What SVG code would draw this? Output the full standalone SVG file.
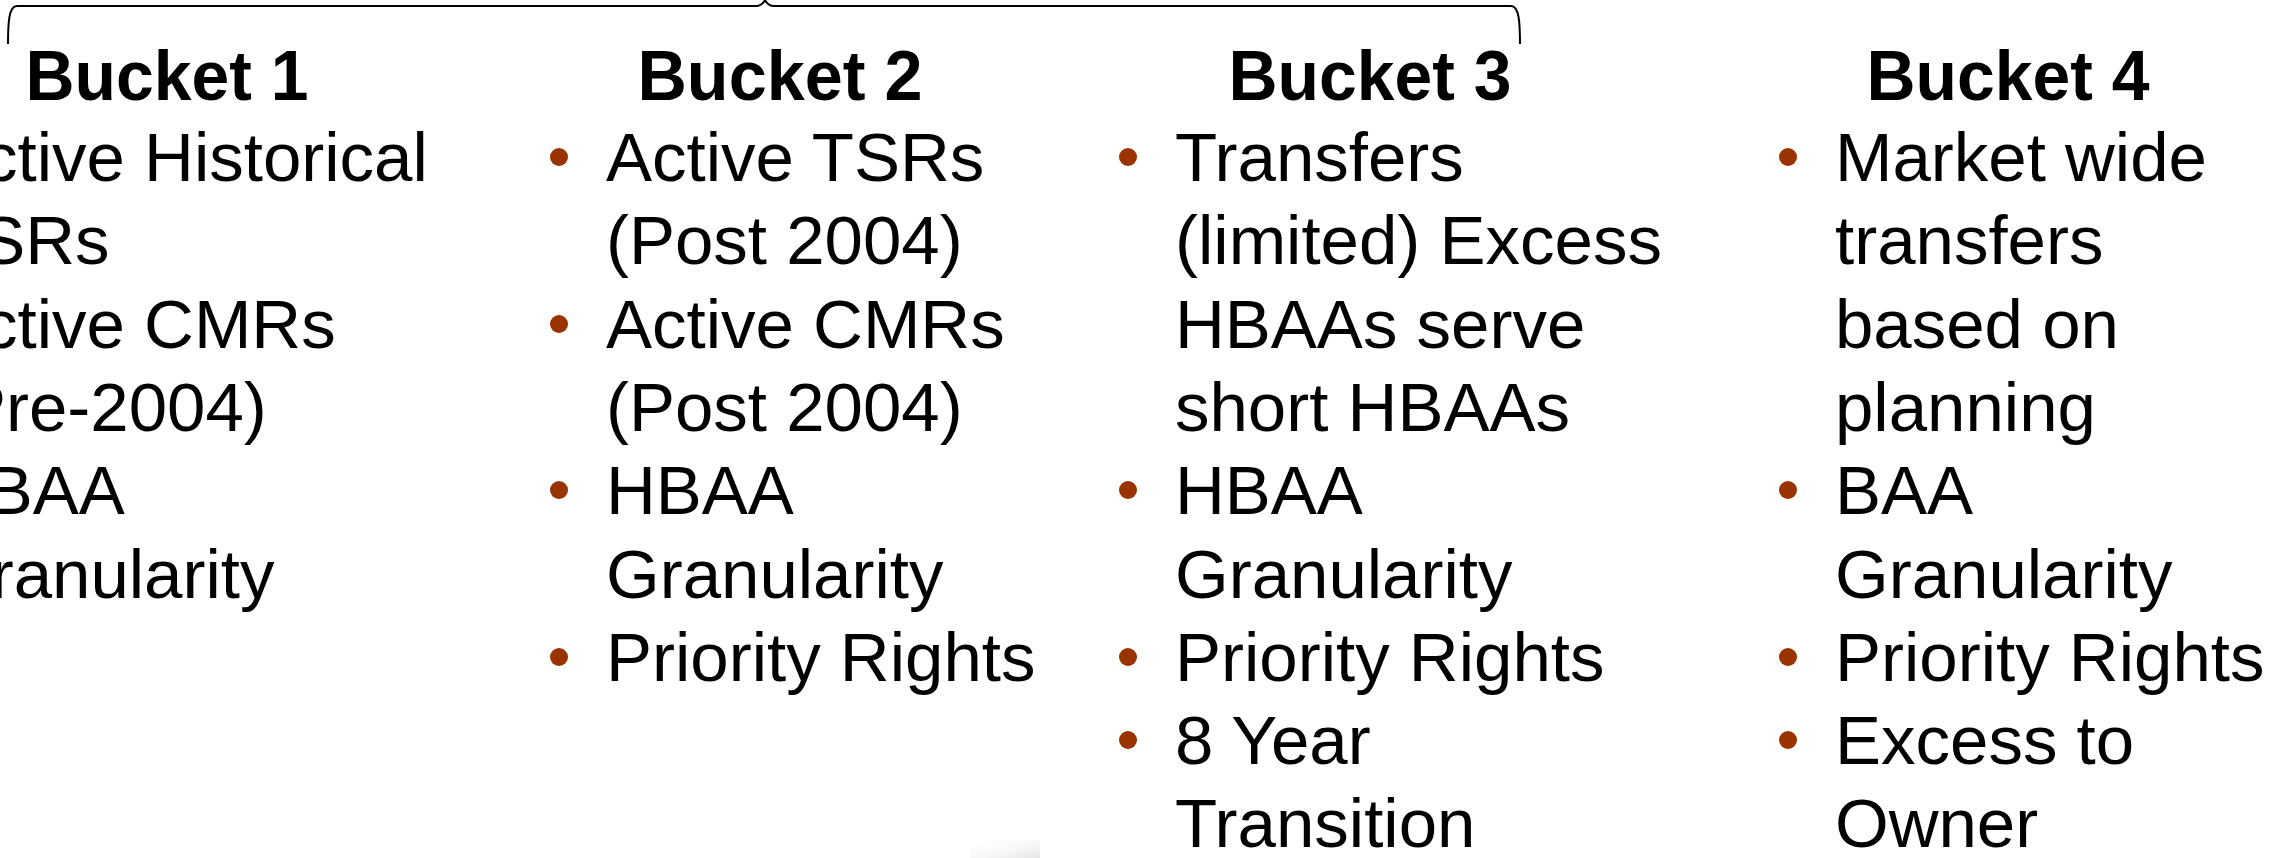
<svg xmlns="http://www.w3.org/2000/svg" width="2280" height="858" viewBox="0 0 2280 858">
<style>
.title{font-family:"Liberation Sans",Arial,sans-serif;font-weight:bold;font-size:70px;fill:#000;text-anchor:middle}
.item{font-family:"Liberation Sans",Arial,sans-serif;font-size:69px;fill:#000}
.bullet{fill:#993300}
.brace{fill:none;stroke:#000;stroke-width:2}
</style>
<defs>
<linearGradient id="shade" x1="0" y1="0" x2="1" y2="1">
<stop offset="0" stop-color="#ffffff" stop-opacity="0"/>
<stop offset="1" stop-color="#e6e6e6"/>
</linearGradient>
</defs>
<rect width="2280" height="858" fill="#fff"/>
<rect x="970" y="840" width="70" height="18" fill="url(#shade)"/>
<g id="brace">
<path class="brace" d="M8,44 C8,22 9,6 17,6 L756,6 Q762,6 765,0 Q768,6 774,6 L1511,6 C1519,6 1520,22 1520,44"/>
</g>
<g id="bucket1">
<text class="title" x="167" y="100" textLength="283" lengthAdjust="spacingAndGlyphs">Bucket 1</text>
<circle class="bullet" cx="-110" cy="157" r="9"/>
<circle class="bullet" cx="-110" cy="324" r="9"/>
<circle class="bullet" cx="-110" cy="490" r="9"/>
<text class="item" x="-63" y="181">Active Historical</text>
<text class="item" x="-63" y="264">TSRs</text>
<text class="item" x="-63" y="348">Active CMRs</text>
<text class="item" x="-63" y="431">(Pre-2004)</text>
<text class="item" x="-63" y="514">HBAA</text>
<text class="item" x="-63" y="598">Granularity</text>
</g>
<g id="bucket2">
<text class="title" x="780" y="100" textLength="285" lengthAdjust="spacingAndGlyphs">Bucket 2</text>
<circle class="bullet" cx="559" cy="157" r="9"/>
<circle class="bullet" cx="559" cy="324" r="9"/>
<circle class="bullet" cx="559" cy="490" r="9"/>
<circle class="bullet" cx="559" cy="657" r="9"/>
<text class="item" x="606" y="181">Active TSRs</text>
<text class="item" x="606" y="264">(Post 2004)</text>
<text class="item" x="606" y="348">Active CMRs</text>
<text class="item" x="606" y="431">(Post 2004)</text>
<text class="item" x="606" y="514">HBAA</text>
<text class="item" x="606" y="598">Granularity</text>
<text class="item" x="606" y="681">Priority Rights</text>
</g>
<g id="bucket3">
<text class="title" x="1370" y="100" textLength="283" lengthAdjust="spacingAndGlyphs">Bucket 3</text>
<circle class="bullet" cx="1128" cy="157" r="9"/>
<circle class="bullet" cx="1128" cy="490" r="9"/>
<circle class="bullet" cx="1128" cy="657" r="9"/>
<circle class="bullet" cx="1128" cy="740" r="9"/>
<text class="item" x="1175" y="181">Transfers</text>
<text class="item" x="1175" y="264">(limited) Excess</text>
<text class="item" x="1175" y="348">HBAAs serve</text>
<text class="item" x="1175" y="431">short HBAAs</text>
<text class="item" x="1175" y="514">HBAA</text>
<text class="item" x="1175" y="598">Granularity</text>
<text class="item" x="1175" y="681">Priority Rights</text>
<text class="item" x="1175" y="764">8 Year</text>
<text class="item" x="1175" y="847">Transition</text>
</g>
<g id="bucket4">
<text class="title" x="2008" y="100" textLength="283" lengthAdjust="spacingAndGlyphs">Bucket 4</text>
<circle class="bullet" cx="1788" cy="157" r="9"/>
<circle class="bullet" cx="1788" cy="490" r="9"/>
<circle class="bullet" cx="1788" cy="657" r="9"/>
<circle class="bullet" cx="1788" cy="740" r="9"/>
<text class="item" x="1835" y="181">Market wide</text>
<text class="item" x="1835" y="264">transfers</text>
<text class="item" x="1835" y="348">based on</text>
<text class="item" x="1835" y="431">planning</text>
<text class="item" x="1835" y="514">BAA</text>
<text class="item" x="1835" y="598">Granularity</text>
<text class="item" x="1835" y="681">Priority Rights</text>
<text class="item" x="1835" y="764">Excess to</text>
<text class="item" x="1835" y="847">Owner</text>
</g>
</svg>
